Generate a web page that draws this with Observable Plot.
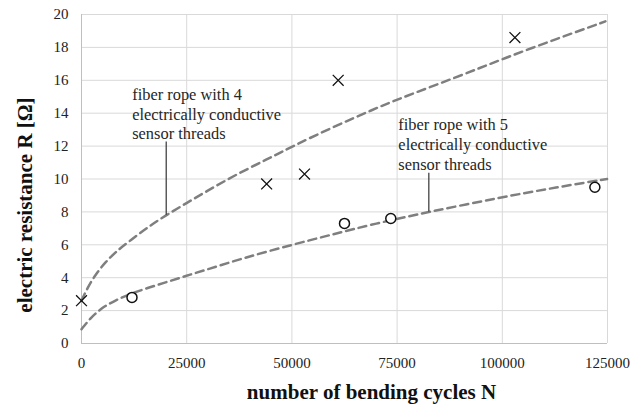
<!DOCTYPE html>
<html>
<head>
<meta charset="utf-8">
<script src="https://cdn.jsdelivr.net/npm/d3@7"></script>
<script src="https://cdn.jsdelivr.net/npm/@observablehq/plot@0.6"></script>
<style>
  html, body { margin: 0; padding: 0; background: #fff; }
  svg text { font-family: 'Liberation Serif', 'Times New Roman', Times, serif !important; }
</style>
</head>
<body>
<div id="chart"></div>
<script>
// ---- data ----
const xTicks = [0, 25000, 50000, 75000, 100000, 125000];
const yTicks = [0, 2, 4, 6, 8, 10, 12, 14, 16, 18, 20];

// measured points: fiber rope with 4 threads (crosses)
const crossN = [0, 44000, 53000, 61000, 103000];
const crossR = [2.6, 9.7, 10.3, 16.0, 18.6];

// measured points: fiber rope with 5 threads (circles)
const circleN = [12000, 62500, 73500, 122000];
const circleR = [2.8, 7.3, 7.6, 9.5];

// dashed trend line, 4 threads
const upperN = [0, 1350, 3330, 5700, 8480, 11640, 15600, 20130, 25100, 29850, 36200, 44130, 50460, 59970, 69470, 75020, 89280, 100360, 113040, 124500];
const upperR = [2.6, 3.35, 4.2, 4.95, 5.65, 6.27, 7.05, 7.8, 8.56, 9.27, 10.2, 11.2, 12.03, 13.18, 14.24, 14.84, 16.2, 17.33, 18.53, 19.58];

// dashed trend line, 5 threads
const lowerN = [0, 2140, 4515, 7680, 13210, 19560, 25100, 29850, 38550, 49670, 59970, 69470, 82540, 99580, 113040, 124900];
const lowerR = [0.87, 1.55, 2.1, 2.6, 3.18, 3.68, 4.13, 4.5, 5.2, 5.98, 6.65, 7.27, 8.0, 8.88, 9.5, 10.0];

// annotations
const noteText = ["fiber rope with 4\nelectrically conductive\nsensor threads", "fiber rope with 5\nelectrically conductive\nsensor threads"];
const noteN = [12050, 75300];
const noteR = [14.0, 12.15];
const leaderN = [20130, 82540];
const leaderTop = [12.25, 10.35];
const leaderBottom = [7.8, 8.0];

const xTitle = "number of bending cycles N";
const yTitle = "electric resistance R [Ω]";

// ---- tables ----
const crosses = crossN.map((n, i) => ({n, r: crossR[i]}));
const circles = circleN.map((n, i) => ({n, r: circleR[i]}));
const upper = upperN.map((n, i) => ({n, r: upperR[i]}));
const lower = lowerN.map((n, i) => ({n, r: lowerR[i]}));
const notes = noteText.map((t, i) => ({t, n: noteN[i], r: noteR[i]}));
const leaders = leaderN.map((n, i) => ({n, r1: leaderTop[i], r2: leaderBottom[i]}));

const serif = "'Liberation Serif', 'Times New Roman', Times, serif";
const lineStyle = {x: "n", y: "r", stroke: "#7f7f7f", strokeWidth: 2.5, strokeDasharray: "8,5", curve: "basis"};

const chart = Plot.plot({
  width: 641,
  height: 410,
  marginLeft: 81,
  marginRight: 34,
  marginTop: 14,
  marginBottom: 67,
  x: {domain: [0, 125000]},
  y: {domain: [0, 20]},
  style: {fontFamily: serif, fontSize: "15px", color: "#222", background: "#fff", overflow: "visible"},
  marks: [
    Plot.gridX(xTicks, {stroke: "#d9d9d9", strokeOpacity: 1, strokeWidth: 1}),
    Plot.gridY(yTicks, {stroke: "#d9d9d9", strokeOpacity: 1, strokeWidth: 1}),
    Plot.ruleX([0], {stroke: "#bfbfbf", strokeWidth: 1}),
    Plot.ruleY([0], {stroke: "#bfbfbf", strokeWidth: 1}),
    Plot.axisX(xTicks, {tickSize: 0, tickPadding: 14, tickFormat: d3.format("d"), label: null, fontSize: 15, fontFamily: serif, fill: "#222"}),
    Plot.axisY(yTicks, {tickSize: 0, tickPadding: 13, label: null, fontSize: 15, fontFamily: serif, fill: "#222"}),
    Plot.line(upper, lineStyle),
    Plot.line(lower, lineStyle),
    Plot.ruleX(leaders, {x: "n", y1: "r1", y2: "r2", stroke: "#333", strokeWidth: 1.2}),
    Plot.text(notes, {x: "n", y: "r", text: "t", textAnchor: "start", lineAnchor: "middle", fontSize: 16.4, lineHeight: 1.2, fontFamily: serif, fill: "#262626"}),
    Plot.dot(crosses, {x: "n", y: "r", symbol: "times", r: 5, stroke: "#111", strokeWidth: 1.3}),
    Plot.dot(circles, {x: "n", y: "r", symbol: "circle", r: 5, fill: "#fff", stroke: "#111", strokeWidth: 1.5}),
    Plot.text([xTitle], {frameAnchor: "bottom", text: d => d, textAnchor: "middle", lineAnchor: "middle", dx: 27, dy: 49, fontSize: 21, fontWeight: "bold", fontFamily: serif, fill: "#111"}),
    Plot.text([yTitle], {frameAnchor: "left", text: d => d, textAnchor: "middle", lineAnchor: "middle", rotate: -90, dx: -56, dy: 26, fontSize: 21, fontWeight: "bold", fontFamily: serif, fill: "#111"})
  ]
});

document.getElementById("chart").appendChild(chart);
</script>
</body>
</html>
